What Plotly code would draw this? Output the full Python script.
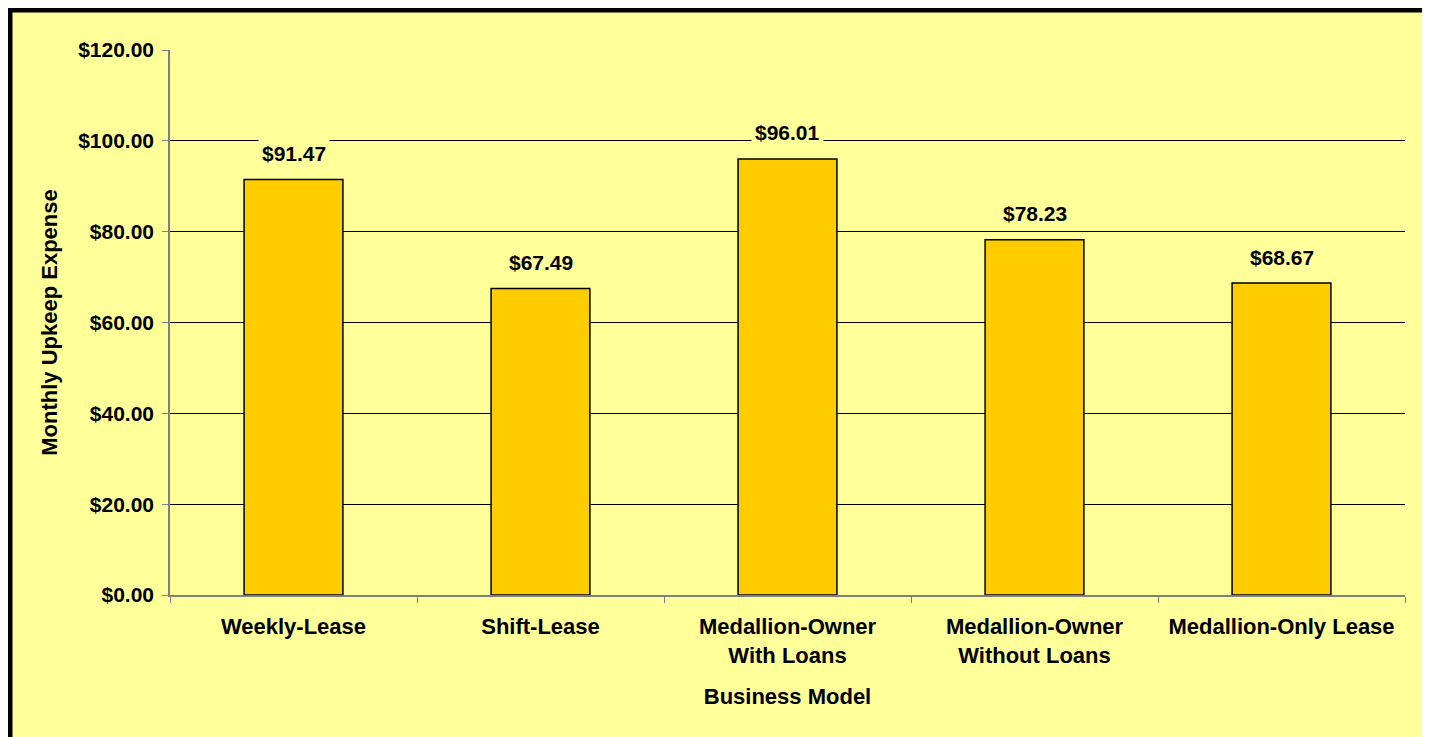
import plotly.graph_objects as go

categories = ["Weekly-Lease", "Shift-Lease", "Medallion-Owner<br>With Loans",
              "Medallion-Owner<br>Without Loans", "Medallion-Only Lease"]
values = [91.47, 67.49, 96.01, 78.23, 68.67]
y_ticks = [0, 20, 40, 60, 80, 100, 120]
y_tick_labels = ["$%.2f" % v for v in y_ticks]

# page body has an 8px margin, so the figure is sized/offset accordingly
OFF = 8
W, H = 1430 - OFF, 737 - OFF
L, R, T, B = 170 - OFF, 25, 50 - OFF, 142
pw, ph = W - L - R, H - T - B
BG = "#FFFF99"
FAM = "Liberation Sans, Arial, sans-serif"
FONT = dict(family=FAM, size=21, color="black")
FONT_BIG = dict(family=FAM, size=22, color="black")

fig = go.Figure()
fig.add_trace(go.Bar(
    x=categories, y=values, width=0.4,
    marker=dict(color="#FFCC00", line=dict(color="black", width=1.5)),
    hoverinfo="x+y",
))

for c, v in zip(categories, values):
    fig.add_annotation(x=c, y=v, text="<b>$%.2f</b>" % v, showarrow=False,
                       yanchor="middle", yshift=26, bgcolor=BG, borderpad=3,
                       font=FONT)

def px2x(px):
    return (px - L) / pw

def py2y(py):
    return (H - B - py) / ph

fig.add_shape(type="rect", xref="paper", yref="paper", layer="below",
              x0=px2x(2), x1=px2x(1416.5), y0=py2y(760), y1=py2y(2),
              fillcolor=BG, line=dict(color="black", width=5))

fig.update_layout(
    width=W, height=H,
    margin=dict(l=L, r=R, t=T, b=B, autoexpand=False),
    paper_bgcolor="white", plot_bgcolor="rgba(0,0,0,0)",
    font=FONT, showlegend=False, bargap=0.6,
    xaxis=dict(
        tickson="boundaries", ticks="outside", ticklen=6, tickcolor="#808080",
        showline=True, linecolor="#808080", linewidth=1.5,
        tickfont=dict(family=FAM, size=22, color="black", weight="bold"),
        ticklabelstandoff=11,
        title=dict(text="<b>Business Model</b>", standoff=22, font=FONT_BIG),
        showgrid=False, fixedrange=True,
    ),
    yaxis=dict(
        range=[0, 120], tickvals=y_ticks, ticktext=y_tick_labels,
        ticks="outside", ticklen=6, tickcolor="#808080",
        showline=True, linecolor="#808080", linewidth=1.5,
        showgrid=True, gridcolor="black", gridwidth=1, zeroline=False,
        tickfont=dict(family=FAM, size=21, color="black", weight="bold"),
        ticklabelstandoff=4,
        title=dict(text="<b>Monthly Upkeep Expense</b>", standoff=14, font=FONT_BIG),
        fixedrange=True,
    ),
)

fig.write_html("out.html")
